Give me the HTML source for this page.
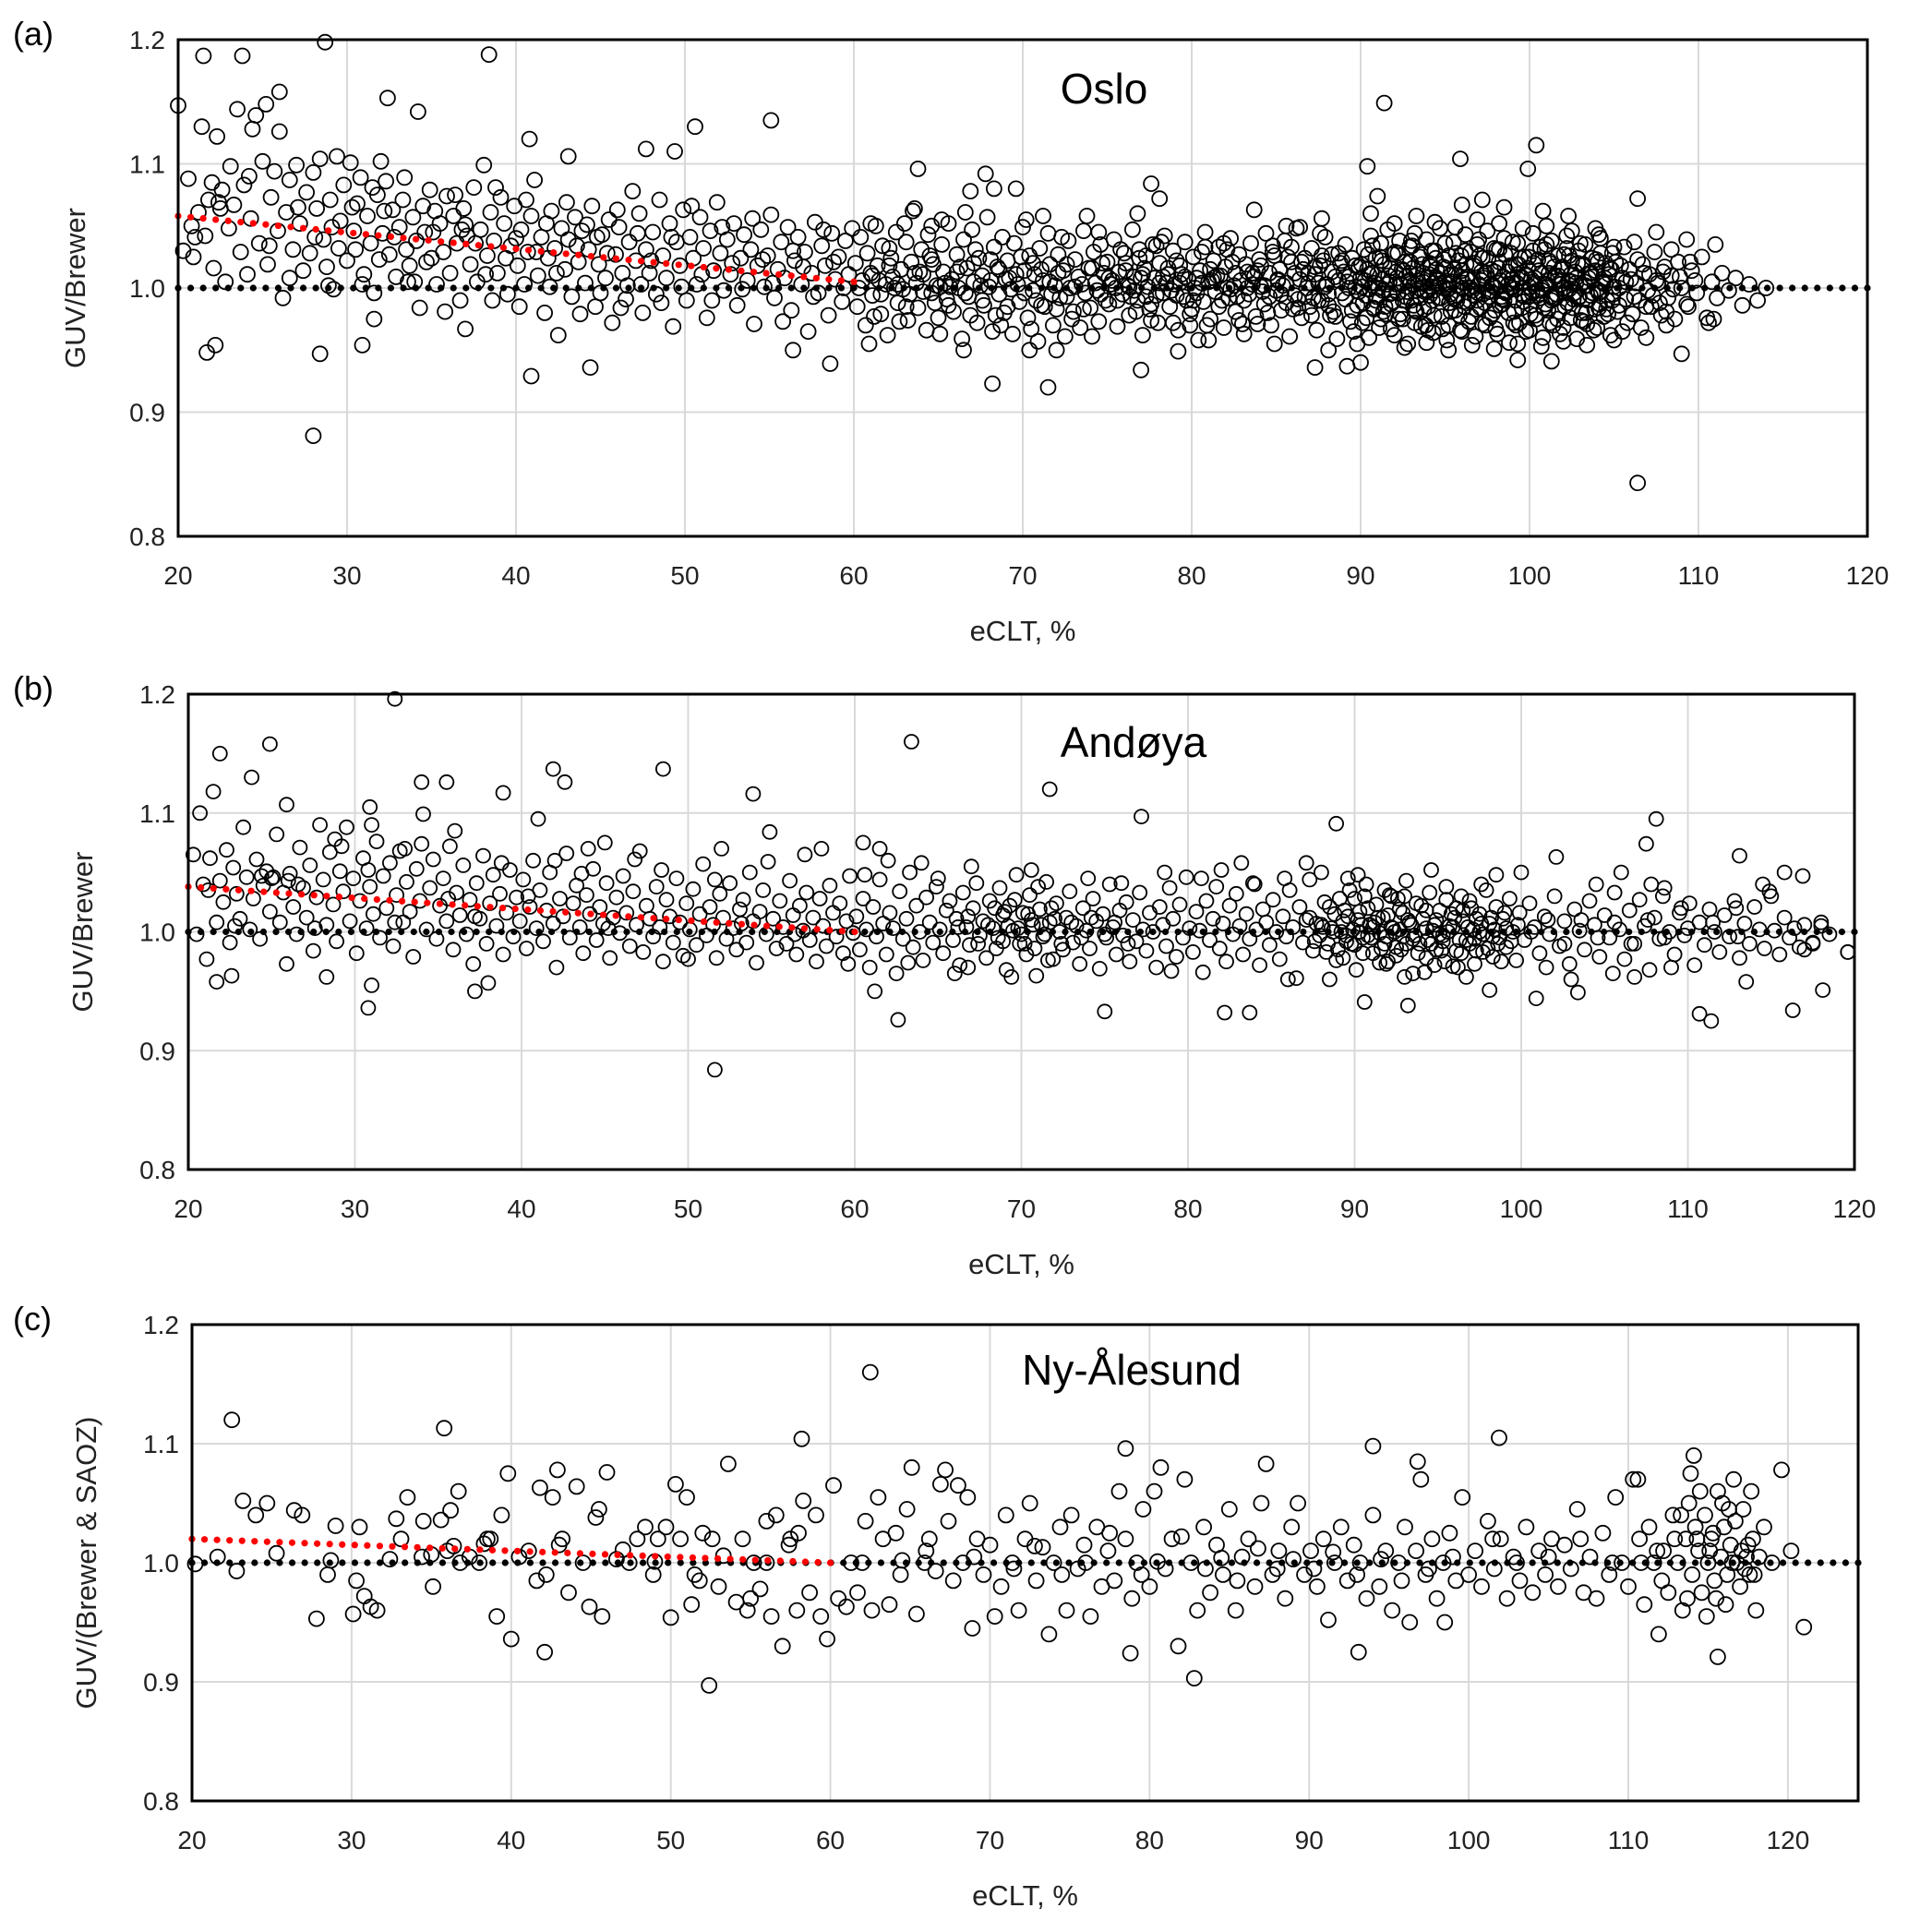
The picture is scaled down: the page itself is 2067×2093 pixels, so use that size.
<!DOCTYPE html>
<html><head><meta charset="utf-8"><style>
html,body{margin:0;padding:0;background:#fff;}
svg{display:block;font-family:"Liberation Sans",sans-serif;}
</style></head><body>
<svg id="chart" width="2067" height="2093" viewBox="0 0 2067 2093"></svg>
<script>
const xTicks=[20,30,40,50,60,70,80,90,100,110,120];
const yTicks=[0.8,0.9,1.0,1.1,1.2];
const yTickLabels=["0.8","0.9","1.0","1.1","1.2"];
const osloTrend=[[20,1.058],[60,1.005]];
const andoyaTrend=[[20,1.038],[60,1.0]];
const nyTrend=[[20,1.02],[60,1.0]];
const refLevel=[1.0];
const osloPts=[[20.0,1.147],[21.5,1.187],[23.8,1.187],[28.7,1.198],[38.4,1.188],[26,1.158],[32.4,1.153],[34.2,1.142],[28,0.881],[28.4,0.947],[21.7,0.948],[22.2,0.954],[30.9,0.954],[40.9,0.929],[44.4,0.936],[50.6,1.13],[55.1,1.135],[63.8,1.096],[91.4,1.149],[100.4,1.115],[95.9,1.104],[99.9,1.096],[106.4,0.843],[68.2,0.923],[71.5,0.92],[77,0.934],[87.3,0.936],[89.2,0.937],[90,0.94],[109,0.947],[90.4,1.098],[99.3,0.942],[101.3,0.941],[106.4,1.072],[109.3,1.039],[111,1.035],[58.6,0.939],[56.4,0.95],[40.8,1.12],[43.1,1.106],[47.7,1.112],[49.4,1.11],[37,0.967],[31.6,0.975],
[20.3,1.03],[20.6,1.088],[20.9,1.025],[21.2,1.061],[21.4,1.13],[21.6,1.042],[21.8,1.071],[22.0,1.085],[22.1,1.016],[22.3,1.122],[22.5,1.064],[22.6,1.079],[22.8,1.005],[23.0,1.048],[23.1,1.098],[23.3,1.067],[23.5,1.144],[23.7,1.029],[23.9,1.083],[24.1,1.011],[24.3,1.056],[24.4,1.128],[24.6,1.139],[24.8,1.036],[25.0,1.102],[25.2,1.148],[25.3,1.019],[25.5,1.073],[25.7,1.094],[25.9,1.046],[26.0,1.126],[26.2,0.992],[26.4,1.061],[26.6,1.087],[26.8,1.031],[27.0,1.099],[27.2,1.052],[27.4,1.014],[27.6,1.077],[27.8,1.028],[28.0,1.093],[28.2,1.064],[28.4,1.104],[28.6,1.039],[28.8,1.017],[29.0,1.071],[29.2,0.999],[29.4,1.106],[29.6,1.054],[29.8,1.083],[30.0,1.022],[30.2,1.101],[30.4,1.046],[30.6,1.068],[30.8,1.089],[31.0,1.011],[31.2,1.058],[31.4,1.036],[31.6,0.996],[31.8,1.075],[32.0,1.102],[32.1,1.044],[32.3,1.086],[32.5,1.027],[32.7,1.063],[32.9,1.009],[33.1,1.049],[33.3,1.071],[33.5,1.031],[33.7,1.018],[33.9,1.057],[34.1,1.038],[34.3,0.984],[34.5,1.066],[34.7,1.021],[34.9,1.079],[35.1,1.045],[35.3,1.003],[35.5,1.052],[35.7,1.029],[35.9,1.074],[36.1,1.012],[36.3,1.058],[36.5,1.036],[36.7,0.99],[36.9,1.064],[37.1,1.042],[37.3,1.019],[37.5,1.081],[37.7,1.005],[37.9,1.047],[38.1,1.099],[38.3,1.026],[38.5,1.061],[38.7,1.038],[38.9,1.012],[39.1,1.073],[39.3,1.052],[39.5,0.995],[39.7,1.034],[39.9,1.066],[40.1,1.018],[40.3,1.047],[40.5,1.003],[40.7,1.029],[40.9,1.058],[41.1,1.087],[41.3,1.01],[41.5,1.041],[41.7,0.98],[41.9,1.024],[42.1,1.062],[42.3,1.032],[42.5,0.962],[42.7,1.048],[42.9,1.015],[43.1,1.039],[43.3,0.993],[43.5,1.057],[43.7,1.021],[43.9,1.046],[44.1,1.004],[44.3,1.031],[44.5,1.066],[44.7,0.985],[44.9,1.019],[45.1,1.043],[45.3,1.008],[45.5,1.055],[45.7,0.972],[45.9,1.027],[46.1,1.049],[46.3,1.012],[46.5,0.991],[46.7,1.037],[46.9,1.078],[47.1,1.022],
[28.1,1.041],[28.9,1.002],[29.5,1.032],[30.3,1.065],[30.9,1.003],[31.5,1.081],[32.2,1.062],[32.8,1.041],[33.4,1.089],[34.0,1.005],[34.6,1.045],[35.2,1.062],[35.8,0.981],[36.4,1.075],[37.0,1.051],[37.6,1.036],[38.2,1.011],[38.8,1.081],[39.4,1.024],[40.0,1.04],[40.6,1.071],[41.2,1.029],[41.8,1.052],[42.4,1.012],[43.0,1.069],[43.6,1.034],[44.2,1.051],[44.8,1.041],[45.4,1.028],[46.0,1.063],[46.6,1.002],[47.2,1.044],[20.8,1.05],[21.0,1.041],[22.4,1.069],[24.2,1.09],[25.4,1.034],[26.6,1.008],[27.1,1.065],[29.1,1.049],[30.5,1.031],[31.9,1.023],[33.6,1.005],[35.0,1.024],[36.8,1.047],[38.6,0.99],[40.2,0.985],[42.0,1.001],[43.8,0.979],[45.0,0.996],[46.2,0.984],
[47.3,1.06],[47.5,0.98],[47.7,1.031],[47.9,1.012],[48.1,1.045],[48.3,0.995],[48.5,1.071],[48.7,1.026],[48.9,1.008],[49.1,1.052],[49.3,0.969],[49.5,1.037],[49.7,1.018],[49.9,1.063],[50.1,0.99],[50.3,1.041],[50.5,1.024],[50.7,1.003],[50.9,1.057],[51.1,1.032],[51.3,0.976],[51.5,1.046],[51.7,1.014],[51.9,1.069],[52.1,1.028],[52.3,0.998],[52.5,1.039],[52.7,1.011],[52.9,1.052],[53.1,0.986],[53.3,1.024],[53.5,1.043],[53.7,1.006],[53.9,1.031],[54.1,0.971],[54.3,1.018],[54.5,1.047],[54.7,1.001],[54.9,1.026],[55.1,1.059],[55.3,0.992],[55.5,1.015],[55.7,1.037],[55.9,1.008],[56.1,1.049],[56.3,0.982],[56.5,1.022],[56.7,1.041],[56.9,1.003],[57.1,1.029],[57.3,0.965],[57.5,1.012],[57.7,1.053],[57.9,0.996],[58.1,1.034],[58.3,1.018],[58.5,0.978],[58.7,1.044],[58.9,1.007],[59.1,1.025],[59.3,0.989],[59.5,1.038],[59.7,1.011],
[47.4,1.003],[48.0,1.022],[48.6,0.988],[49.2,1.041],[49.8,1.001],[50.4,1.066],[51.0,1.011],[51.6,0.99],[52.2,1.049],[52.8,1.02],[53.4,0.999],[54.0,1.056],[54.6,1.023],[55.2,1.004],[55.8,0.973],[56.4,1.03],[57.0,1.017],[57.6,0.993],[58.2,1.047],[58.8,1.021],[59.4,1.0],[59.9,1.048],
[60.1,1.02],[60.2,0.985],[60.4,1.041],[60.5,1.006],[60.7,0.97],[60.8,1.028],[61.0,1.012],[61.1,0.994],[61.3,1.05],[61.4,1.018],[61.6,0.979],[61.7,1.034],[61.9,1.003],[62.0,0.962],[62.2,1.024],[62.3,1.009],[62.5,1.045],[62.6,0.988],[62.8,1.015],[62.9,0.999],[63.1,1.037],[63.2,0.974],[63.4,1.021],[63.5,1.062],[63.7,1.004],[63.8,0.984],[64.0,1.031],[64.1,1.011],[64.3,0.966],[64.4,1.043],[64.6,0.996],[64.7,1.019],[64.9,1.002],[65.0,0.976],[65.2,1.035],[65.3,1.013],[65.5,0.991],[65.6,1.052],[65.8,1.007],[65.9,0.981],[66.1,1.027],[66.2,1.0],[66.4,0.959],[66.5,1.039],[66.7,1.016],[66.8,0.993],[67.0,1.047],[67.1,1.005],[67.3,0.972],[67.4,1.024],[67.6,1.01],[67.7,0.986],[67.9,1.057],[68.0,1.001],[68.2,0.965],[68.3,1.033],[68.5,1.017],[68.6,0.995],[68.8,1.041],[68.9,0.98],[69.1,1.022],[69.2,1.008],[69.4,0.963],[69.5,1.036],[69.7,1.003],[69.8,0.989],[70.0,1.049],[70.1,1.014],[70.3,0.976],[70.4,1.026],[70.6,0.998],[70.7,1.011],[70.9,0.957],[71.0,1.032],[71.2,1.006],[71.3,0.985],[71.5,1.044],[71.6,1.019],[71.8,0.97],[71.9,1.002],[72.1,1.027],[72.2,0.992],[72.4,1.014],[72.5,0.961],[72.7,1.038],[72.8,1.0],[73.0,0.981],[73.1,1.023],[73.3,1.009],[73.4,0.968],[73.6,1.046],[73.7,0.996],[73.9,1.016],[74.0,0.984],[74.2,1.029],[74.3,1.004],[74.5,0.973],[74.6,1.035],[74.8,1.012],[74.9,0.99],
[60.3,1.0],[60.9,0.955],[61.5,1.006],[62.1,1.032],[62.7,0.973],[63.3,0.995],[63.9,1.013],[64.5,1.026],[65.1,0.963],[65.7,1.001],[66.3,1.017],[66.9,0.978],[67.5,1.002],[68.1,1.023],[68.7,0.97],[69.3,0.999],[69.9,1.025],[70.5,0.967],[71.1,1.015],[71.7,0.995],[72.3,1.041],[72.9,0.975],[73.5,1.003],[74.1,0.961],[74.7,1.02],[61.2,0.977],[63.0,1.052],[64.8,0.988],[66.6,1.061],[68.4,0.978],[70.2,1.055],[72.0,0.983],[73.8,1.058],[62.4,1.0],[65.4,1.004],[67.2,1.031],[69.0,1.007],[70.8,0.99],[72.6,1.019],[74.4,0.998],
[63.6,1.064],[67.8,1.092],[68.3,1.08],[69.6,1.08],[66.9,1.078],[65.2,1.055],[64.6,1.05],[61.0,1.052],[71.2,1.058],[74.5,1.045],[66.5,0.95],[70.4,0.95],[72.0,0.95],
[75.0,1.021],[75.1,0.987],[75.3,1.006],[75.4,1.039],[75.6,0.969],[75.7,1.013],[75.9,0.995],[76.0,1.028],[76.2,1.002],[76.3,0.978],[76.5,1.047],[76.6,1.009],[76.8,0.99],[76.9,1.024],[77.1,0.962],[77.2,1.016],[77.4,1.001],[77.5,0.983],[77.7,1.035],[77.8,1.008],[78.0,0.972],[78.1,1.02],[78.3,0.996],[78.4,1.042],[78.6,1.011],[78.7,0.985],[78.9,1.03],[79.0,1.003],[79.2,0.966],[79.3,1.018],[79.5,0.993],[79.6,1.037],[79.8,1.007],[79.9,0.979],[80.1,1.025],[80.2,1.0],[80.4,0.958],[80.5,1.014],[80.7,0.989],[80.8,1.045],[81.0,1.005],[81.1,0.975],[81.3,1.022],[81.4,0.997],[81.6,1.033],[81.7,1.01],[81.9,0.968],[82.0,1.017],[82.2,0.992],[82.3,1.04],[82.5,1.002],[82.6,0.981],[82.8,1.027],[82.9,1.006],[83.1,0.963],[83.2,1.019],[83.4,0.995],[83.5,1.036],[83.7,1.009],[83.8,0.977],[84.0,1.023],[84.1,1.001],[84.3,0.987],[84.4,1.044],[84.6,1.012],[84.7,0.97],[84.9,1.026],[85.0,0.998],[85.2,1.015],[85.3,0.982],[85.5,1.038],[85.6,1.004],[85.8,0.961],[85.9,1.021],[86.1,0.994],[86.2,1.048],[86.4,1.007],[86.5,0.976],[86.7,1.024],[86.8,1.0],[87.0,0.985],[87.1,1.032],[87.3,1.011],[87.4,0.966],[87.6,1.018],[87.7,0.99],[87.9,1.041],[88.0,1.003],[88.2,0.978],[88.3,1.027],[88.5,1.009],[88.6,0.959],[88.8,1.02],[88.9,0.996],[89.1,1.035],[89.2,1.005],[89.4,0.973],[89.5,1.024],[89.7,1.001],[89.8,0.986],
[75.2,1.003],[75.8,1.031],[76.4,0.993],[77.0,1.008],[77.6,0.974],[78.2,1.037],[78.8,0.998],[79.4,1.011],[80.0,0.983],[80.6,1.029],[81.2,1.006],[81.8,0.99],[82.4,1.021],[83.0,0.971],[83.6,1.012],[84.2,0.997],[84.8,1.034],[85.4,1.002],[86.0,0.983],[86.6,1.015],[87.2,0.992],[87.8,1.022],[88.4,0.981],[89.0,1.013],[89.6,0.965],
[75.5,1.0],[76.1,1.014],[76.7,0.981],[77.3,1.026],[77.9,0.994],[78.5,1.004],[79.1,1.022],[79.7,0.99],[80.3,1.008],[80.9,0.97],[81.5,1.01],[82.1,1.031],[82.7,0.993],[83.3,1.0],[83.9,1.014],[84.5,0.98],[85.1,1.007],[85.7,1.025],[86.3,0.991],[86.9,1.012],[87.5,1.004],[88.1,0.995],[88.7,1.028],[89.3,1.0],[89.9,1.017],
[76.8,1.06],[78.1,1.072],[77.6,1.084],[83.7,1.063],[85.6,1.05],[86.4,1.049],[87.6,1.044],[79.2,0.949],[81.0,0.958],[84.9,0.955],
[90.0,1.008],[90.1,0.972],[90.2,1.031],[90.3,0.994],[90.4,1.015],[90.5,0.96],[90.6,1.042],[90.7,1.002],[90.8,0.983],[90.9,1.024],[91.0,1.011],[91.1,0.968],[91.2,1.036],[91.3,0.998],[91.4,1.019],[91.5,0.979],[91.6,1.047],[91.7,1.005],[91.8,0.987],[91.9,1.027],[92.0,0.962],[92.1,1.013],[92.2,0.996],[92.3,1.038],[92.4,1.003],[92.5,0.975],[92.6,1.021],[92.7,1.009],[92.8,0.955],[92.9,1.033],[93.0,0.99],[93.1,1.016],[93.2,1.044],[93.3,0.981],[93.4,1.006],[93.5,1.025],[93.6,0.969],[93.7,1.012],[93.8,0.997],[93.9,1.039],[94.0,0.985],[94.1,1.02],[94.2,1.001],[94.3,0.964],[94.4,1.03],[94.5,1.008],[94.6,0.992],[94.7,1.048],[94.8,0.977],[94.9,1.017],[95.0,1.004],[95.1,0.958],[95.2,1.026],[95.3,0.995],[95.4,1.011],[95.5,1.037],[95.6,0.982],[95.7,1.002],[95.8,1.022],[95.9,0.966],[96.0,1.014],[96.1,0.989],[96.2,1.043],[96.3,1.007],[96.4,0.973],[96.5,1.029],[96.6,0.998],[96.7,1.018],[96.8,0.961],[96.9,1.035],[97.0,1.003],[97.1,0.984],[97.2,1.024],[97.3,1.01],[97.4,0.97],[97.5,1.046],[97.6,0.993],[97.7,1.015],[97.8,0.979],[97.9,1.032],[98.0,1.0],[98.1,0.963],[98.2,1.021],[98.3,1.006],[98.4,0.987],[98.5,1.04],[98.6,0.996],[98.7,1.013],[98.8,0.956],[98.9,1.028],[99.0,1.004],[99.1,0.981],[99.2,1.019],[99.3,1.036],[99.4,0.972],[99.5,1.009],[99.6,0.994],[99.7,1.025],[99.8,0.965],[99.9,1.016],[100.0,1.001],[100.1,0.986],[100.2,1.044],[100.3,1.008],[100.4,0.975],[100.5,1.023],[100.6,0.992],[100.7,1.012],[100.8,0.96],[100.9,1.031],[101.0,1.003],[101.1,0.982],[101.2,1.02],[101.3,1.038],[101.4,0.97],[101.5,1.01],[101.6,0.995],[101.7,1.026],[101.8,0.963],[101.9,1.015],[102.0,1.0],[102.1,0.985],[102.2,1.042],[102.3,1.006],[102.4,0.976],[102.5,1.022],[102.6,0.991],[102.7,1.013],[102.8,0.959],[102.9,1.03],[103.0,1.002],[103.1,0.98],[103.2,1.019],[103.3,1.035],[103.4,0.971],[103.5,1.008],[103.6,0.994],[103.7,1.024],[103.8,0.966],[103.9,1.014],[104.0,0.999],[104.1,0.984],[104.2,1.04],[104.3,1.005],[104.4,0.977],[104.5,1.02],[104.6,0.99],[104.7,1.011],[104.8,0.962],[104.9,1.028],[105.0,1.001],[105.2,0.981],[105.4,1.018],[105.6,1.033],[105.8,0.972],[106.0,1.007],[106.2,0.993],[106.4,1.023],[106.6,0.968],[106.8,1.012],[107.0,0.998],[107.2,0.985],[107.4,1.029],[107.6,1.004],[107.8,0.978],[108.0,1.017],[108.2,0.992],[108.4,1.01],[108.6,0.975],[108.8,1.021],[109.0,1.0],[109.3,0.987],[109.6,1.014],[109.9,0.996],[110.2,1.025],[110.5,0.976],[110.8,1.005],[111.1,0.992],[111.4,1.012],[111.8,0.998],[112.2,1.008],[112.6,0.986],[113.0,1.003],[113.5,0.99],[114.0,1.0],
[91.05,1.0],[91.25,1.022],[91.45,0.985],[91.65,1.01],[91.85,0.996],[92.05,1.029],[92.25,0.975],[92.45,1.015],[92.65,0.993],[92.85,1.006],[93.05,1.034],[93.25,0.982],[93.45,1.0],[93.65,1.019],[93.85,0.97],[94.05,1.011],[94.25,0.99],[94.45,1.024],[94.65,1.002],[94.85,0.967],[95.05,1.016],[95.25,0.988],[95.45,1.005],[95.65,1.028],[95.85,0.978],[96.05,1.0],[96.25,1.019],[96.45,0.99],[96.65,1.007],[96.85,0.983],[97.05,1.026],[97.25,0.995],[97.45,1.012],[97.65,0.976],[97.85,1.002],[98.05,1.031],[98.25,0.986],[98.45,1.009],[98.65,0.997],[98.85,1.018],[99.05,0.972],[99.25,1.004],[99.45,1.024],[99.65,0.989],[99.85,1.01],[100.05,0.979],[100.25,1.02],[100.45,0.998],[100.65,1.033],[100.85,0.984],[101.05,1.006],[101.25,0.993],[101.45,1.017],[101.65,0.975],[101.85,1.003],[102.05,1.027],[102.25,0.988],[102.45,1.011],[102.65,0.996],[102.85,1.02],[103.05,0.974],[103.25,1.005],[103.45,0.99],[103.65,1.012],[103.85,0.983],[104.05,1.021],[104.25,0.997],[104.45,1.008],[104.65,0.979],[104.85,1.015],
[92.0,1.052],[93.3,1.058],[94.4,1.053],[95.6,1.049],[96.9,1.055],[98.2,1.052],[99.6,1.048],[101.0,1.05],[102.5,1.046],[103.9,1.048],[92.6,0.952],[93.9,0.956],[95.2,0.95],[96.6,0.954],[97.9,0.951],[99.3,0.955],[100.7,0.953],[102.0,0.957],[103.4,0.954],[105.0,0.958],[90.6,1.06],[91.0,1.074],[96.0,1.067],[97.2,1.071],[98.5,1.065],[100.8,1.062],[102.3,1.058],[104.1,1.043],[106.2,1.037],[107.5,1.045],[108.4,1.031],[109.5,1.021],[110.6,0.972],[110.9,0.975],[105.5,0.965],[106.9,0.96],[108.1,0.97],[88.1,0.95],[89.8,0.955],[87.7,1.056],
[93.15,1.003],[93.55,0.992],[93.95,1.008],[94.35,0.998],[94.75,1.012],[95.15,0.999],[95.55,0.991],[95.95,1.009],[96.35,1.0],[96.75,0.994],[97.15,1.006],[97.55,0.997],[97.95,1.013],[98.35,0.991],[98.75,1.003],[99.15,0.999],[99.55,1.008],[99.95,0.993],[100.35,1.004],[100.75,0.998],[101.15,1.012],[101.55,0.992],[101.95,1.006],[102.35,0.999],[102.75,1.004]];
const osloCore=[[86.1,1.012],[86.3,0.984],[86.5,1.021],[86.7,0.993],[86.9,1.004],[87.1,0.978],[87.3,1.017],[87.5,0.99],[87.7,1.026],[87.9,1.001],[88.1,0.986],[88.3,1.013],[88.5,0.977],[88.7,1.006],[88.9,1.022],[89.1,0.991],[89.3,1.009],[89.5,0.982],[89.7,1.018],[89.9,0.997],
[90.05,1.019],[90.15,0.988],[90.25,1.006],[90.35,0.976],[90.45,1.027],[90.55,0.999],[90.65,1.012],[90.75,0.984],[90.85,1.004],[90.95,0.993],[91.15,1.025],[91.35,0.981],[91.55,1.003],[91.75,1.016],[91.95,0.989],[92.15,1.008],[92.35,0.979],[92.55,1.014],[92.75,0.997],[92.95,1.021],[93.15,0.986],[93.35,1.011],[93.55,1.027],[93.75,0.983],[93.95,0.998],[94.15,1.017],[94.35,0.978],[94.55,1.006],[94.75,0.992],[94.95,1.023],[95.15,1.003],[95.35,0.981],[95.55,1.015],[95.75,0.994],[95.95,1.026],[96.15,0.985],[96.35,1.009],[96.55,0.977],[96.75,1.02],[96.95,0.996],[97.15,1.013],[97.35,0.988],[97.55,1.024],[97.75,1.002],[97.95,0.982],[98.15,1.016],[98.35,0.993],[98.55,1.027],[98.75,0.98],[98.95,1.007],[99.15,0.99],[99.35,1.019],[99.55,0.984],[99.75,1.011],[99.95,1.025],[100.15,0.996],[100.35,0.978],[100.55,1.014],[100.75,1.0],[100.95,0.987],[101.15,1.022],[101.35,0.992],[101.55,1.009],[101.75,0.981],[101.95,1.017],[102.15,0.998],[102.35,1.026],[102.55,0.984],[102.75,1.008],[102.95,0.993],[103.15,1.018],[103.35,0.98],[103.55,1.012],[103.75,0.996],[103.95,1.023],[104.15,0.987],[104.35,1.004],[104.55,0.983],[104.75,1.016],[104.95,0.995],[105.1,1.021],[105.3,0.986],[105.5,1.008],[105.7,0.991],[105.9,1.015],[106.1,0.979],[106.3,1.004],[106.5,0.99],[106.7,1.019],[106.9,0.985],[107.1,1.011],[107.3,0.994],[107.5,1.006],[107.7,0.988],[107.9,1.013],[108.1,0.981],[108.5,0.999],[108.9,1.009],[109.4,0.985],[109.8,1.006],
[90.1,1.001],[90.5,1.011],[90.9,0.99],[91.3,1.007],[91.7,0.995],[92.1,1.003],[92.5,0.99],[92.9,1.012],[93.3,0.998],[93.7,1.005],[94.1,0.994],[94.5,1.015],[94.9,1.0],[95.3,1.01],[95.7,0.99],[96.1,1.004],[96.5,1.0],[96.9,0.99],[97.3,1.008],[97.7,0.997],[98.1,1.004],[98.5,0.99],[98.9,1.0],[99.3,1.011],[99.7,0.993],[100.1,1.007],[100.5,0.994],[100.9,1.003],[101.3,0.99],[101.7,1.01],[102.1,0.996],[102.5,1.005],[102.9,0.992],[103.3,1.002],[103.7,1.009],[104.1,0.996],[104.5,1.003],[104.9,0.99],[105.3,1.0],[105.7,1.005],
[91.2,0.975],[92.2,1.028],[93.2,0.972],[94.2,1.03],[95.2,0.97],[96.2,1.03],[97.2,0.971],[98.2,1.031],[99.2,0.97],[100.2,1.03],[101.2,0.972],[102.2,1.032],[103.2,0.973],[104.2,1.028],[90.7,1.034],[91.8,0.967],[93.0,1.038],[94.0,0.966],[95.0,1.036],[96.0,0.965],[97.0,1.039],[98.0,0.967],[99.0,1.037],[100.0,0.966],[101.0,1.035],[102.0,0.968],[103.0,1.036],[104.0,0.968],[105.0,1.033]];
const osloMid=[[61.1,1.01],[61.6,0.995],[62.1,1.018],[62.6,1.003],[63.1,0.985],[63.6,1.012],[64.1,0.997],[64.6,1.023],[65.1,1.001],[65.6,0.986],[66.1,1.013],[66.6,0.996],[67.1,1.02],[67.6,0.99],[68.1,1.006],[68.6,1.015],[69.1,0.985],[69.6,1.011],[70.1,0.996],[70.6,1.02],[71.1,0.986],[71.6,1.005],[72.1,1.012],[72.6,0.993],[73.1,1.001],[73.6,0.983],[74.1,1.016],[74.6,0.995],[75.1,1.008],[75.6,0.99],[76.1,1.02],[76.6,0.998],[77.1,1.011],[77.6,0.987],[78.1,1.004],[78.6,1.016],[79.1,0.994],[79.6,1.009],[80.1,0.99],[80.6,1.004],[81.1,1.015],[81.6,0.985],[82.1,1.0],[82.6,1.012],[83.1,0.99],[83.6,1.003],[84.1,1.018],[84.6,0.993],[85.1,1.006],[85.6,0.988],
[76.3,1.001],[77.3,0.993],[78.3,1.009],[79.3,1.004],[80.3,0.996],[81.3,1.008],[82.3,0.999],[83.3,1.013],[84.3,1.002],[85.3,0.995],[76.9,1.031],[78.9,0.972],[80.8,1.033],[82.8,0.974],[84.8,1.029],[77.9,1.034],[79.9,0.97],[81.9,1.036],[83.9,0.971],[85.9,1.033]];
const andoyaPts=[[32.4,1.196],[21.9,1.15],[24.9,1.158],[63.4,1.16],[71.7,1.12],[77.2,1.097],[88.9,1.091],[108.1,1.095],[113.1,1.064],[51.6,0.884],[62.6,0.926],[82.2,0.932],[75,0.933],[83.7,0.932],[110.7,0.931],[111.4,0.925],[116.3,0.934],[118.1,0.951],[119.6,0.983],[48.5,1.137],[41.9,1.137],[42.6,1.126],[34,1.126],[35.5,1.126],[38.9,1.117],[53.9,1.116],[23.8,1.13],[30.9,1.105],[25.9,1.107],[28.8,1.078],[30.8,0.936],[31.0,0.955],[21.7,0.958],[22.6,0.963],[28.3,0.962],[37.2,0.95],[38,0.957],[98.1,0.951],[100.9,0.944],[103.4,0.949],[90.6,0.941],[93.2,0.938],[116.9,1.047],[115.8,1.05],
[20.3,1.065],[20.5,0.998],[20.7,1.1],[20.9,1.04],[21.1,0.977],[21.3,1.062],[21.5,1.118],[21.7,1.008],[21.9,1.043],[22.1,1.025],[22.3,1.069],[22.5,0.991],[22.7,1.054],[22.9,1.032],[23.1,1.011],[23.3,1.088],[23.5,1.046],[23.7,1.002],[23.9,1.028],[24.1,1.061],[24.3,0.994],[24.5,1.039],[24.7,1.051],[24.9,1.017],[25.1,1.046],[25.3,1.082],[25.5,1.008],[25.7,1.033],[25.9,0.973],[26.1,1.049],[26.3,1.021],[26.5,0.998],[26.7,1.071],[26.9,1.037],[27.1,1.012],[27.3,1.056],[27.5,0.984],[27.7,1.029],[27.9,1.09],[28.1,1.044],[28.3,1.006],[28.5,1.067],[28.7,1.023],[28.9,0.992],[29.1,1.051],[29.3,1.034],[29.5,1.088],[29.7,1.009],[29.9,1.045],[30.1,0.982],[30.3,1.026],[30.5,1.062],[30.7,1.003],[30.9,1.038],[31.1,1.015],[31.3,1.076],[31.5,0.995],[31.7,1.047],[31.9,1.02],[32.1,1.058],[32.3,0.988],[32.5,1.031],[32.7,1.068],[32.9,1.008],[33.1,1.042],[33.3,1.017],[33.5,0.979],[33.7,1.053],[33.9,1.026],[34.1,1.099],[34.3,1.002],[34.5,1.037],[34.7,1.061],[34.9,0.994],[35.1,1.022],[35.3,1.045],[35.5,1.009],[35.7,1.072],[35.9,0.985],[36.1,1.033],[36.3,1.014],[36.5,1.056],[36.7,0.998],[36.9,1.027],[37.1,0.973],[37.3,1.041],[37.5,1.011],[37.7,1.064],[37.9,0.99],[38.1,1.024],[38.3,1.048],[38.5,1.005],[38.7,1.032],[38.9,0.981],[39.1,1.016],[39.3,1.052],[39.5,0.996],[39.7,1.029],[39.9,1.009],[40.1,1.044],[40.3,0.986],[40.5,1.021],[40.7,1.06],[40.9,1.003],[41.1,1.035],[41.3,0.992],[41.5,1.018],[41.7,1.05],[41.9,1.007],[42.1,0.97],[42.3,1.028],[42.5,1.013],[42.7,1.066],[42.9,0.995],[43.1,1.024],[43.3,1.039],[43.5,1.004],[43.7,0.982],[43.9,1.031],[44.1,1.015],[44.3,1.053],[44.5,0.993],[44.7,1.021],[44.9,1.007],[45.1,1.041],[45.3,0.978],[45.5,1.012],[45.7,1.029],[45.9,0.999],[46.1,1.047],[46.3,1.016],[46.5,0.988],[46.7,1.034],[46.9,1.006],[47.1,1.068],[47.3,0.983],[47.5,1.022],[47.7,1.011],[47.9,0.996],[48.1,1.038],[48.3,1.004],[48.5,0.975],[48.7,1.027],[48.9,1.013],[49.1,0.991],[49.3,1.045],[49.5,1.008],[49.7,0.98],[49.9,1.024],[50.1,1.002],[50.3,1.036],[50.5,0.989],[50.7,1.015],[50.9,1.057],[51.1,0.997],[51.3,1.021],[51.5,1.006],[51.7,0.978],[51.9,1.032],[52.1,1.012],[52.3,0.994],[52.5,1.041],[52.7,1.003],[52.9,0.985],[53.1,1.019],[53.3,1.027],[53.5,0.991],[53.7,1.05],[53.9,1.009],[54.1,0.974],[54.3,1.017],[54.5,1.035],[54.7,0.998],[54.9,1.084],[55.1,1.011],[55.3,0.986],[55.5,1.026],[55.7,1.004],[55.9,0.99],[56.1,1.043],[56.3,1.014],[56.5,0.981],[56.7,1.022],[56.9,1.001],[57.1,1.033],[57.3,0.993],[57.5,1.012],[57.7,0.975],[57.9,1.028],[58.1,1.005],[58.3,0.988],[58.5,1.039],[58.7,1.016],[58.9,0.996],[59.1,1.024],[59.3,0.982],[59.5,1.009],[59.7,1.047],[59.9,0.999],
[21.2,1.035],[22.8,1.005],[24.4,1.047],[26.0,1.043],[27.6,1.003],[29.2,1.072],[30.8,1.052],[32.4,1.008],[34.0,1.074],[35.6,1.028],[37.2,1.013],[38.8,1.058],[40.4,1.03],[42.0,1.06],[43.6,1.049],[45.2,1.003],[46.8,1.061],[48.4,1.052],[50.0,0.977],[51.6,1.044],[53.2,1.007],[54.8,1.059],[56.4,0.998],[58.0,1.07],[59.6,0.973],[25.0,1.045],[26.6,1.04],[31.0,1.09],[33.0,1.07],[36.0,1.085],[41.0,1.095],[44.0,1.07],[45.0,1.075],[52.0,1.07],[57.0,1.065],[60.5,1.075],[61.5,1.07],
[60.1,1.013],[60.3,0.985],[60.5,1.028],[60.7,1.002],[60.9,0.97],[61.1,1.021],[61.3,0.996],[61.5,1.044],[61.7,1.007],[61.9,0.981],[62.1,1.016],[62.3,1.003],[62.5,0.965],[62.7,1.034],[62.9,0.994],[63.1,1.011],[63.3,1.05],[63.5,0.987],[63.7,1.022],[63.9,1.0],[64.1,0.976],[64.3,1.029],[64.5,1.008],[64.7,0.991],[64.9,1.038],[65.1,1.002],[65.3,0.982],[65.5,1.018],[65.7,1.026],[65.9,0.993],[66.1,1.011],[66.3,0.972],[66.5,1.033],[66.7,1.004],[66.9,0.989],[67.1,1.02],[67.3,1.041],[67.5,0.997],[67.7,1.009],[67.9,0.978],[68.1,1.026],[68.3,1.003],[68.5,0.986],[68.7,1.037],[68.9,1.014],[69.1,0.968],[69.3,1.022],[69.5,1.001],[69.7,1.048],[69.9,0.99],[70.1,1.016],[70.3,0.981],[70.5,1.031],[70.7,1.006],[70.9,0.963],[71.1,1.019],[71.3,0.996],[71.5,1.042],[71.7,1.008],[71.9,0.977],[72.1,1.024],[72.3,1.0],[72.5,0.985],[72.7,1.012],[72.9,1.034],[73.1,0.991],[73.3,1.005],[73.5,0.973],[73.7,1.02],[73.9,1.001],[74.1,0.986],[74.3,1.028],[74.5,1.009],[74.7,0.969],[74.9,1.015],[75.1,0.995],[75.3,1.04],[75.5,1.004],[75.7,0.981],[75.9,1.018],[76.1,0.997],[76.3,1.025],[76.5,0.975],[76.7,1.01],[76.9,0.992],[77.1,1.033],[77.3,1.002],[77.5,0.984],[77.7,1.016],[77.9,1.0],[78.1,0.97],[78.3,1.021],[78.5,1.006],[78.7,0.988],[78.9,1.037],[79.1,1.011],[79.3,0.979],[79.5,1.023],[79.7,0.995],[79.9,1.046],[80.1,1.003],[80.3,0.983],[80.5,1.017],[80.7,1.001],[80.9,0.966],[81.1,1.026],[81.3,0.993],[81.5,1.011],[81.7,1.038],[81.9,0.986],[82.1,1.007],[82.3,0.975],[82.5,1.022],[82.7,0.998],[82.9,1.032],[83.1,1.005],[83.3,0.981],[83.5,1.015],[83.7,0.994],[83.9,1.041],[84.1,1.002],[84.3,0.972],[84.5,1.019],[84.7,1.008],[84.9,0.989],[85.1,1.027],[85.3,1.0],[85.5,0.977],[85.7,1.013],[85.9,0.996],[86.1,1.035],[86.3,1.004],[86.5,0.961],[86.7,1.021],[86.9,0.991],[87.1,1.01],[87.3,1.044],[87.5,0.984],[87.7,1.007],[87.9,0.997],
[68.4,1.02],[68.9,0.992],[69.2,1.005],[69.6,1.027],[70.0,0.998],[70.4,1.015],[70.8,0.986],[71.2,1.006],[71.6,0.976],[72.0,1.011],[69.4,0.962],[70.6,1.052],[71.0,1.038],[61.2,0.95],[63.2,0.974],[66.0,0.965],[67.0,1.055],[74.0,1.045],[76.0,1.041],[79.0,0.967],[80.8,1.045],[82.0,1.052],[84.0,1.04],[78.6,1.05],[83.2,1.058],[85.8,1.045],[87.1,1.058],[65.0,1.045],[62.0,1.06],[64.0,1.058],[60.6,1.048],[66.8,0.97],
[88.1,1.004],[88.3,0.983],[88.5,1.021],[88.7,1.0],[88.9,0.976],[89.1,1.028],[89.3,1.009],[89.5,0.992],[89.7,1.035],[89.9,1.002],[90.1,0.968],[90.3,1.017],[90.5,0.995],[90.7,1.04],[90.9,1.006],[91.1,0.982],[91.3,1.023],[91.5,0.999],[91.7,1.012],[91.9,0.973],[92.1,1.031],[92.3,1.003],[92.5,0.987],[92.7,1.019],[92.9,0.996],[93.1,1.043],[93.3,1.008],[93.5,0.965],[93.7,1.024],[93.9,0.99],[94.1,1.011],[94.3,0.978],[94.5,1.033],[94.7,1.001],[94.9,0.985],[95.1,1.018],[95.3,0.997],[95.5,1.038],[95.7,1.005],[95.9,0.971],[96.1,1.02],[96.3,0.993],[96.5,1.009],[96.7,0.962],[96.9,1.026],[97.1,1.002],[97.3,0.984],[97.5,1.015],[97.7,0.998],[97.9,1.035],[98.1,1.007],[98.3,0.979],[98.5,1.021],[98.7,0.995],[98.9,1.011],[99.1,0.987],[99.3,1.028],[99.5,1.0],[99.7,0.976],[99.9,1.016],[100.2,0.993],[100.5,1.024],[100.8,1.004],[101.1,0.982],[101.4,1.013],[101.7,0.998],[102.0,1.03],[102.3,0.988],[102.6,1.009],[102.9,0.973],[103.2,1.019],[103.5,1.001],[103.8,0.985],[104.1,1.026],[104.4,1.006],[104.7,0.979],[105.0,1.014],[105.3,0.995],[105.6,1.033],[105.9,1.002],[106.2,0.977],[106.5,1.018],[106.8,0.99],[107.1,1.027],[107.4,1.005],[107.7,0.968],[108.0,1.012],[108.3,0.994],[108.6,1.037],[108.9,1.0],[109.2,0.981],[109.5,1.016],[109.8,0.997],[110.1,1.024],[110.4,0.972],[110.7,1.008],[111.0,0.989],[111.3,1.019],[111.6,1.0],[111.9,0.983],[112.2,1.014],[112.5,0.996],[112.8,1.026],[113.1,0.978],[113.4,1.007],[113.7,0.99],[114.0,1.021],[114.3,1.002],[114.6,0.986],[114.9,1.034],[115.2,1.001],[115.5,0.981],[115.8,1.012],[116.1,0.995],[116.4,1.003],[116.7,0.987],[117.0,1.006],[117.5,0.991],[118.0,1.008],[118.5,0.998],[119.6,0.983],
[89.2,1.0],[89.6,1.013],[90.0,0.989],[90.4,1.006],[90.8,0.997],[91.2,1.008],[91.6,0.986],[92.0,1.014],[92.4,1.0],[92.8,0.985],[93.2,1.01],[93.6,0.997],[94.0,1.022],[94.4,0.993],[94.8,1.006],[95.2,0.984],[95.6,1.0],[96.0,1.012],[96.4,0.982],[96.8,1.004],[97.2,0.994],[97.6,1.007],[98.0,0.986],[98.4,1.002],[95.4,0.975],[96.2,0.97],[94.2,0.966],[93.0,0.962],[97.0,1.02],[90.6,1.03],[91.8,1.035],[92.6,1.028],
[88.0,1.05],[89.6,1.045],[90.2,1.048],[92.2,1.03],[94.6,1.052],[97.6,1.04],[98.5,1.048],[100.0,1.05],[102.1,1.063],[104.5,1.04],[106.0,1.05],[107.5,1.074],[107.8,1.04],[108.5,1.03],[109.6,1.02],[112.9,1.02],[114.5,1.04],[115.0,1.03],[101.5,0.97],[103.0,0.96],[105.5,0.965],[106.8,0.962],[109.0,0.97],[113.5,0.958],[117.5,0.99],[118.0,1.005],[117.0,0.985],[88.5,0.96],[86.0,0.96]];
const andoyaCore=[[87.3,1.012],[87.6,0.992],[88.0,1.006],[88.4,0.99],[88.8,1.015],[89.0,0.985],[89.4,1.018],[89.8,0.99],[90.2,1.01],[90.5,0.982],[90.8,1.02],[91.0,0.995],[91.4,1.012],[91.8,0.99],[92.2,1.004],[92.5,0.98],[92.9,1.016],[93.1,0.99],[93.4,1.006],[93.8,0.982],[94.3,1.018],[94.6,0.99],[94.9,1.01],[95.3,0.992],[95.8,1.015],[96.1,0.984],[96.5,1.018],[96.9,0.99],[97.3,1.011],[97.7,0.983],[98.2,1.012],[98.6,0.99],[99.0,1.016],[99.4,0.992],[99.8,1.006],
[88.6,1.003],[89.5,0.997],[90.3,1.0],[91.1,1.004],[91.9,0.996],[92.7,1.002],[93.5,0.994],[94.3,1.003],[95.1,0.998],[95.9,1.004],[96.7,0.993],[97.5,1.0],[98.3,0.996],[99.1,1.003],[88.2,1.025],[90.0,1.028],[91.5,0.974],[93.0,1.03],[94.8,0.972],[96.4,1.03],[98.8,0.975],[89.3,0.978],[92.0,0.975],[95.5,1.027],[97.2,0.973],
[66.2,1.004],[66.8,1.013],[67.4,0.99],[68.0,1.006],[68.6,0.995],[69.0,1.017],[69.8,1.003],[70.2,0.99],[70.6,1.01],[71.4,0.998],[71.8,1.02],[72.4,0.99],[73.0,1.008],[73.6,0.995],[74.2,1.012],[75.0,0.998],[75.6,1.008],[76.4,0.99],[100.6,1.0],[101.6,1.01],[102.6,0.99],[103.6,1.01],[104.6,0.995],[105.6,1.008],[106.6,0.99],[107.6,1.01],[108.6,0.995],[110.0,1.003],[111.5,1.008],[113.0,0.996]];
const nyPts=[[22.5,1.12],[35.8,1.113],[62.5,1.16],[58.2,1.104],[101.9,1.105],[78.5,1.096],[94,1.098],[52.4,0.897],[82.8,0.903],[115.6,0.921],[121,0.946],[42.1,0.925],[78.8,0.924],[93.1,0.925],
[20.2,0.999],[21.6,1.005],[22.8,0.993],[23.2,1.052],[24.0,1.04],[24.7,1.05],[25.3,1.008],[26.4,1.044],[26.9,1.04],[27.8,0.953],[28.5,0.99],[28.7,1.002],[29.0,1.031],[30.1,0.957],[30.3,0.985],[30.5,1.03],[30.8,0.972],[31.2,0.963],[31.6,0.96],[32.4,1.003],[32.8,1.037],[33.1,1.02],[33.5,1.055],[34.4,1.005],[35.0,1.007],[35.1,0.98],[35.6,1.036],[36.0,1.01],[36.2,1.044],[36.4,1.014],[36.7,1.06],[37.4,1.005],[38.0,1.0],[38.3,1.016],[38.7,1.02],[39.1,0.955],[39.4,1.04],[39.8,1.075],[40.0,0.936],[40.5,1.005],[41.1,1.01],[41.6,0.985],[41.8,1.063],[42.2,0.99],[42.6,1.055],[42.9,1.078],[43.2,1.02],[43.6,0.975],[44.1,1.064],[44.5,1.0],[44.9,0.963],[45.3,1.038],[45.7,0.955],[46.0,1.076],[46.6,1.003],[47.4,1.0],[47.9,1.02],[48.4,1.03],[48.9,0.99],[49.2,1.02],[49.7,1.03],[50.0,0.954],[50.3,1.066],[50.6,1.02],[51.0,1.055],[51.3,0.965],[51.8,0.985],[52.0,1.025],[52.6,1.02],[53.0,0.98],[53.3,1.006],[53.6,1.083],[54.1,0.967],[54.5,1.02],[54.8,0.96],[55.2,1.0],[55.6,0.978],[56.0,1.035],[56.3,0.955],[56.6,1.04],[57.0,0.93],[57.4,1.015],[57.9,0.96],[58.3,1.052],[58.7,0.975],[59.1,1.04],[59.4,0.955],[59.8,0.936],[60.2,1.065],[60.5,0.97],[61.0,0.963],
[38.5,1.02],[43.0,1.015],[45.5,1.045],[55.0,0.97],[56.0,1.0],[57.5,1.02],[58.0,1.025],[51.5,0.99],[49.0,1.001],[47.0,1.011],[34.5,1.035],[36.8,1.0],
[61.3,1.0],[61.7,0.975],[62.2,1.035],[62.6,0.96],[63.0,1.055],[63.3,1.02],[63.7,0.965],[64.1,1.025],[64.4,0.99],[64.8,1.045],[65.1,1.08],[65.4,0.957],[65.9,1.0],[66.2,1.02],[66.6,0.993],[66.9,1.066],[67.2,1.078],[67.4,1.035],[67.7,0.985],[68.0,1.065],[68.3,1.0],[68.6,1.055],[68.9,0.945],[69.2,1.02],[69.6,0.99],[70.0,1.015],[70.3,0.955],[70.7,0.98],[71.0,1.04],[71.4,1.0],[71.8,0.96],[72.2,1.02],[72.5,1.05],[72.9,0.985],[73.3,1.013],[73.7,0.94],[74.0,1.0],[74.4,1.03],[74.8,0.96],[75.1,1.04],[75.5,0.995],[75.9,1.015],[76.3,0.955],[76.7,1.03],[77.0,0.98],[77.4,1.01],[77.8,0.985],[78.1,1.06],[78.5,1.02],[78.9,0.97],[79.2,1.0],[79.6,1.045],[80.0,0.98],[80.3,1.06],[80.7,1.08],[81.0,0.995],[81.4,1.02],[81.8,0.93],[82.2,1.07],[82.6,1.0],[83.0,0.96],[83.4,1.03],[83.8,0.975],[84.2,1.015],[84.6,0.99],[85.0,1.045],[85.4,0.96],[85.8,1.005],[86.2,1.02],[86.6,0.98],[87.0,1.05],[87.3,1.083],[87.7,0.99],[88.1,1.01],[88.5,0.97],[88.9,1.03],[89.3,1.05],[89.7,0.99],[90.1,1.01],[90.5,0.98],[90.9,1.02],[91.2,0.952],[91.6,1.0],[92.0,1.03],[92.4,0.985],[92.8,1.015],[93.2,1.0],[93.6,0.97],[94.0,1.04],[94.4,0.98],[94.8,1.01],[95.2,0.96],[95.6,1.0],[96.0,1.03],[96.3,0.95],[96.7,1.01],[97.0,1.07],[97.3,0.99],[97.7,1.02],[98.0,0.97],[98.4,1.0],[98.8,1.025],[99.2,0.985],[99.6,1.055],
[62.0,1.0],[64.5,1.002],[66.0,1.01],[69.0,1.005],[71.5,0.995],[72.8,1.014],[74.5,0.99],[76.0,1.0],[77.5,1.025],[79.5,0.99],[80.5,1.001],[82.0,1.022],[83.5,0.995],[84.5,1.004],[85.5,0.985],[86.8,1.012],[88.0,0.995],[89.0,1.003],[90.3,0.995],[91.5,1.009],[93.0,0.99],[94.5,1.003],[95.8,0.985],[97.5,0.995],[99.0,1.005],[96.8,1.085],[98.5,0.95],
[100.0,0.99],[100.4,1.01],[100.8,0.98],[101.2,1.035],[101.6,0.995],[102.0,1.02],[102.4,0.97],[102.8,1.005],[103.2,0.985],[103.6,1.03],[104.0,0.975],[104.4,1.01],[104.8,0.99],[105.2,1.02],[105.6,0.98],[106.0,1.015],[106.4,0.995],[106.8,1.045],[107.2,0.975],[107.6,1.005],[108.0,0.97],[108.4,1.025],[108.8,0.99],[109.2,1.055],[109.6,1.0],[110.0,0.98],[110.3,1.07],[110.7,1.02],[111.0,0.965],[111.3,1.03],[111.6,1.0],[111.9,0.94],[112.2,1.01],[112.5,0.975],[112.8,1.04],[113.1,1.0],[113.4,0.96],[113.6,1.02],[113.8,1.05],[114.0,0.99],[114.2,1.03],[114.4,1.01],[114.6,0.975],[114.8,1.04],[115.0,1.0],[115.2,1.02],[115.4,0.985],[115.6,1.06],[115.8,1.005],[116.0,1.03],[116.2,0.99],[116.4,1.015],[116.6,1.07],[116.8,1.0],[117.0,0.98],[117.2,1.045],[117.4,1.005],[117.6,0.99],[117.8,1.02],[118.0,0.96],[118.2,1.005],[118.5,1.03],[119.0,1.0],[119.6,1.078],[120.2,1.01],
[110.6,1.07],[111.8,1.01],[112.9,1.02],[113.3,1.04],[113.9,1.075],[114.1,1.09],[114.5,1.06],[115.1,1.01],[115.5,0.97],[115.9,1.05],[116.3,1.045],[116.7,1.035],[117.1,1.01],[117.3,0.995],[117.7,1.06],[117.9,0.99],[116.1,0.965],[114.9,0.955],[113.7,0.97],[112.1,0.985],[114.3,1.02],[115.3,1.025],[116.5,1.0],[117.5,1.015],[101.5,1.02],[103.0,1.0],[105.0,1.005],[107.0,1.02],[109.0,1.0],[110.8,1.0]];

const NS="http://www.w3.org/2000/svg";
const svg=document.getElementById('chart');
function mk(tag,attrs,parent){const e=document.createElementNS(NS,tag);for(const k in attrs)e.setAttribute(k,attrs[k]);(parent||svg).appendChild(e);return e;}

function drawPanel(p){
  const g=mk('g',{});
  
  
  const xs=v=>p.L+(v-20)/(p.xmax-20)*(p.R-p.L);
  const ys=v=>p.B-(v-0.8)/0.4*(p.B-p.T);
  xTicks.forEach(t=>{ if(t>20&&t<p.xmax){const l=mk('line',{x1:xs(t),x2:xs(t),y1:p.T,y2:p.B,stroke:'#d9d9d9','stroke-width':2},g);
    
    }});
  yTicks.forEach(t=>{ if(t>0.8&&t<1.2){const l=mk('line',{x1:p.L,x2:p.R,y1:ys(t),y2:ys(t),stroke:'#d9d9d9','stroke-width':2},g);
    
    }});
  const pg=mk('g',{fill:'none',stroke:'#000','stroke-width':1.8},g);
  
  
  p.pts.forEach(d=>{const c=mk('circle',{cx:xs(d[0]).toFixed(1),cy:ys(d[1]).toFixed(1),r:p.r},pg);
    
    });
  function dots(x0,y0,x1,y1,col,nm){
    const dg=mk('g',{fill:col},g);
    
    
    const X0=xs(x0),Y0=ys(y0),X1=xs(x1),Y1=ys(y1);
    const len=Math.hypot(X1-X0,Y1-Y0),n=Math.round(len/13.6);
    for(let i=0;i<=n;i++){mk('circle',{cx:X0+(X1-X0)*i/n,cy:Y0+(Y1-Y0)*i/n,r:3.6},dg);}
  }
  dots(20,refLevel[0],p.xmax,refLevel[0],'#000','reference-line');
  dots(p.trend[0][0],p.trend[0][1],p.trend[1][0],p.trend[1][1],'#ff0000','trend-line');
  const f=mk('rect',{x:p.L,y:p.T,width:p.R-p.L,height:p.B-p.T,fill:'none',stroke:'#000','stroke-width':3},g);
  
  
  xTicks.forEach(t=>{const tx=mk('text',{x:xs(t),y:p.B+52,'text-anchor':'middle','font-size':28,fill:'#222'},g);tx.textContent=t;
    
    });
  yTicks.forEach((t,i)=>{const tx=mk('text',{x:p.L-14,y:ys(t)+10,'text-anchor':'end','font-size':28,fill:'#222'},g);tx.textContent=yTickLabels[i];
    
    });
  const xt=mk('text',{x:(p.L+p.R)/2,y:p.B+113,'text-anchor':'middle','font-size':31,fill:'#222'},g);xt.textContent='eCLT, %';
  
  
  const cy=(p.T+p.B)/2;
  const yt=mk('text',{x:p.yx,y:cy,'text-anchor':'middle','font-size':31,fill:'#222',transform:`rotate(-90 ${p.yx} ${cy})`},g);yt.textContent=p.ytitle;
  
  
  const st=mk('text',{x:p.sx,y:p.sy,'text-anchor':'middle','font-size':46,fill:'#000'},g);st.textContent=p.station;
  
  
  const pl=mk('text',{x:14,y:p.T+6,'font-size':36,fill:'#000'},g);pl.textContent=p.letter;
  
  
}
drawPanel({name:'panel-oslo',L:193,T:43,R:2023,B:581,xmax:120,pts:osloPts.concat(osloMid,osloCore),trend:osloTrend,r:8,ytitle:'GUV/Brewer',yx:92,station:'Oslo',sx:1196,sy:112,letter:'(a)'});
drawPanel({name:'panel-andoya',L:204,T:752,R:2009,B:1267,xmax:120,pts:andoyaPts.concat(andoyaCore),trend:andoyaTrend,r:7.5,ytitle:'GUV/Brewer',yx:100,station:'Andøya',sx:1228,sy:820,letter:'(b)'});
drawPanel({name:'panel-ny-alesund',L:208,T:1435,R:2013,B:1951,xmax:124.4,pts:nyPts,trend:nyTrend,r:8,ytitle:'GUV/(Brewer & SAOZ)',yx:104,station:'Ny-Ålesund',sx:1226,sy:1500,letter:'(c)'});
</script>
</body></html>
